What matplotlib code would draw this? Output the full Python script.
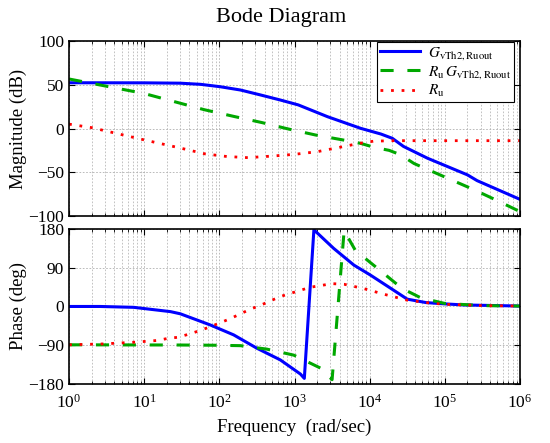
import matplotlib
matplotlib.use('Agg')

import matplotlib.pyplot as plt
import numpy as np
from matplotlib.ticker import LogLocator, NullFormatter

plt.rcParams['font.family'] = ['Liberation Serif', 'DejaVu Serif']
plt.rcParams['mathtext.fontset'] = 'stix'

# magnitude (dB)
w_g_mag = [1, 10, 30.2, 56.2, 102, 191, 355, 646, 1120, 2750, 7590, 14100, 20000, 28200,
           58900, 200000, 269000, 1e6]
g_mag = [52.3, 52.2, 51.8, 50.5, 47.8, 44, 38.3, 32.6, 27, 13.5, 0.2, -6.3, -11.2, -20.5,
         -34, -53, -59.6, -81]

w_rg_mag = [1, 10, 63, 162, 372, 832, 1900, 4370, 7590, 11500, 18200, 25700, 38900, 110000, 245000, 501000, 1e6]
rg_mag = [56.6, 40, 21.5, 13.5, 6.7, -0.6, -7.4, -13, -17, -21.5, -25, -30, -40, -57, -70, -82.5, -95]

w_r_mag = [1, 2, 10, 31.6, 64.6, 126, 240, 525, 1000, 2000, 3980, 7240, 11200, 20000, 1e6]
r_mag = [5, 1, -13, -22.7, -29, -32, -33.3, -31.4, -29.5, -26.5, -21.5, -17, -14.5, -13.9, -13.9]

# phase (deg)
w_g_ph = [1, 2.57, 7.24, 22.4, 30.2, 75.9, 155, 316, 646, 1200, 1350, 1810, 3310, 6170,
          10200, 19100, 31600, 56200, 100000, 178000, 1e6]
g_ph = [0, 0, -2, -12, -17, -43, -66, -97, -124, -157, -167, 178, 135, 96,
        73, 42, 17, 9, 6, 3.5, 1]

w_rg_ph = [1, 30, 85, 191, 427, 977, 2240, 3160, 4570, 6460, 12000, 26900, 47900, 100000, 316000, 1e6]
rg_ph = [-89, -89.5, -90, -91, -99, -113, -143.5, -170, 176, 130, 92, 42, 20, 7, 2, 1]

w_r_ph = [1, 2.82, 7.41, 14.8, 20.9, 28.2, 39.8, 55, 75.9, 102, 141, 191, 257, 355, 479,
          646, 891, 1620, 3160, 4570, 8130, 15800, 30900, 56200, 100000, 316000, 1e6]
r_ph = [-89, -87, -83, -79, -74, -71.5, -64, -56, -47, -38, -28, -17, -6.5, 3, 13,
        23, 30.6, 44.6, 53, 51.5, 42, 28, 15, 9, 5, 2, 1]

labels = [r'$G_{\rm vTh2,Ruout}$', r'$R_{\rm u}\,G_{\rm vTh2,Ruout}$', r'$R_{\rm u}$']

blue = (0, 0, 1)
green = (0, 0.66, 0)
red = (1, 0, 0)
dash = (0, (4.3, 4.5))
dot = (0, (1, 2.8))

fig = plt.figure(figsize=(5.5, 4.43), dpi=100)
ax1 = fig.add_axes([0.1255, 0.5124, 0.82, 0.395])
ax2 = fig.add_axes([0.1255, 0.1332, 0.82, 0.35])

ax1.semilogx(w_g_mag, g_mag, color=blue, lw=2.2, label=labels[0])
ax1.semilogx(w_rg_mag, rg_mag, color=green, lw=2.2, ls=dash, label=labels[1])
ax1.semilogx(w_r_mag, r_mag, color=red, lw=2.0, ls=dot, dash_capstyle='butt', label=labels[2])

ax2.semilogx(w_g_ph, g_ph, color=blue, lw=2.2)
ax2.semilogx(w_rg_ph, rg_ph, color=green, lw=2.2, ls=dash)
ax2.semilogx(w_r_ph, r_ph, color=red, lw=2.0, ls=dot, dash_capstyle='butt')

ax1.set_ylim(-100, 100)
ax1.set_yticks([-100, -50, 0, 50, 100])
ax2.set_ylim(-180, 180)
ax2.set_yticks([-180, -90, 0, 90, 180])

for ax in (ax1, ax2):
    ax.set_xlim(1, 1e6)
    ax.xaxis.set_major_locator(LogLocator(base=10, numticks=10))
    ax.xaxis.set_minor_locator(LogLocator(base=10, subs=np.arange(2, 10), numticks=10))
    ax.grid(True, which='major', color='#b0b0b0', ls=(0, (2, 2)), lw=0.6)
    ax.grid(True, which='minor', axis='x', color='#b8b8b8', ls=(0, (2, 2)), lw=0.6)
    ax.tick_params(which='both', direction='in', top=True, right=True, labelsize=12.5)
    ax.tick_params(which='major', length=4)
    ax.tick_params(which='minor', length=2)
    for s in ax.spines.values():
        s.set_linewidth(1.2)

ax1.xaxis.set_minor_formatter(NullFormatter())
ax1.set_xticklabels([])
ax2.xaxis.set_minor_formatter(NullFormatter())
ax2.tick_params(axis='x', which='major', pad=7)

ax1.set_ylabel('Magnitude (dB)', fontsize=13.5, labelpad=1)
ax2.set_ylabel('Phase (deg)', fontsize=13.5, labelpad=1)
ax2.set_xlabel('Frequency  (rad/sec)', fontsize=13.5, labelpad=5)
ax1.set_title('Bode Diagram', fontsize=16, pad=14, x=0.47)

leg = ax1.legend(loc='upper right', bbox_to_anchor=(0.987, 0.997), fontsize=11,
                 frameon=True, fancybox=False, edgecolor='black', handlelength=2.6,
                 borderaxespad=0, borderpad=0.2, labelspacing=0.15, handletextpad=0.5)
leg.get_frame().set_linewidth(0.8)
leg.get_frame().set_alpha(1)

fig.savefig('out.png', dpi=100)
